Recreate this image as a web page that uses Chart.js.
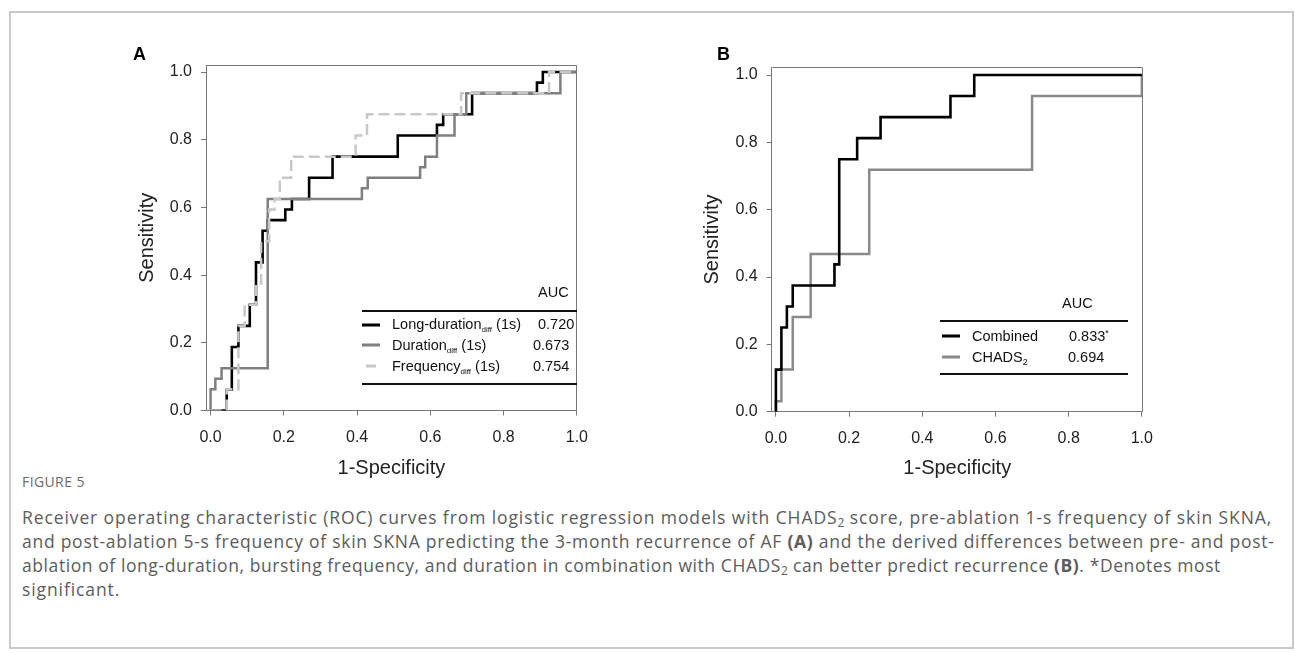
<!DOCTYPE html>
<html><head><meta charset="utf-8">
<script src="https://cdn.jsdelivr.net/npm/chart.js@4.4.0/dist/chart.umd.min.js"></script>
<style>
html,body{margin:0;padding:0;background:#fff;}
body{width:1295px;height:653px;position:relative;overflow:hidden;font-family:"Liberation Sans",Arial,sans-serif;color:#111;}
#frame{position:absolute;left:9px;top:11px;width:1285px;height:638px;border:2px solid #c9c9c9;box-sizing:border-box;}
.cv{position:absolute;}
.abs{position:absolute;white-space:nowrap;line-height:1;}
.lg{font-size:14.5px;color:#111;transform:translateY(-50%);}
.rule{position:absolute;height:2px;background:#111;}
.smp{position:absolute;height:3px;transform:translateY(-50%);}
sub.d{font-size:8px;vertical-align:-3px;line-height:0;}
sub.n{font-size:9px;vertical-align:-3px;line-height:0;}
sup.s{font-size:9px;vertical-align:5px;line-height:0;}
.letter{font-weight:bold;font-size:18px;color:#000;}
#fig{left:22px;top:475px;font-family:"Open Sans",sans-serif;font-size:14px;color:#6a6a6a;letter-spacing:0.4px;}
.cap{left:22px;font-family:"Open Sans",sans-serif;font-size:17.5px;color:#5c5c5c;letter-spacing:0.9px;}
.cap sub{font-size:12px;vertical-align:-3px;line-height:0;letter-spacing:0;}
</style>
</head><body>
<div id="frame"></div>
<canvas id="cA" class="cv" width="480" height="450" style="left:120px;top:40px"></canvas>
<canvas id="cB" class="cv" width="480" height="450" style="left:685px;top:40px"></canvas>

<div class="abs letter" style="left:133px;top:45px">A</div>
<div class="abs letter" style="left:717px;top:45px">B</div>

<!-- Legend A -->
<div class="abs lg" style="left:538px;top:292px">AUC</div>
<div class="rule" style="left:362px;top:310px;width:215px"></div>
<div class="smp" style="left:362px;top:325px;width:18px;background:#000"></div>
<div class="abs lg" style="left:392px;top:324px">Long-duration<sub class="d">diff</sub> (1s)</div>
<div class="abs lg" style="left:538px;top:324px">0.720</div>
<div class="smp" style="left:362px;top:345px;width:18px;background:#7f7f7f"></div>
<div class="abs lg" style="left:392px;top:345px">Duration<sub class="d">diff</sub> (1s)</div>
<div class="abs lg" style="left:533px;top:345px">0.673</div>
<div class="smp" style="left:366px;top:366px;width:10px;background:#c8c8c8"></div>
<div class="abs lg" style="left:392px;top:366px">Frequency<sub class="d">diff</sub> (1s)</div>
<div class="abs lg" style="left:533px;top:366px">0.754</div>
<div class="rule" style="left:362px;top:383px;width:215px"></div>

<!-- Legend B -->
<div class="abs lg" style="left:1062px;top:303px">AUC</div>
<div class="rule" style="left:940px;top:320px;width:188px"></div>
<div class="smp" style="left:942px;top:336px;width:18px;background:#000"></div>
<div class="abs lg" style="left:972px;top:336px">Combined</div>
<div class="abs lg" style="left:1069px;top:336px">0.833<sup class="s">*</sup></div>
<div class="smp" style="left:942px;top:357px;width:18px;background:#8a8a8a"></div>
<div class="abs lg" style="left:972px;top:357px">CHADS<sub class="n">2</sub></div>
<div class="abs lg" style="left:1068px;top:357px">0.694</div>
<div class="rule" style="left:940px;top:373px;width:188px"></div>

<div id="fig" class="abs">FIGURE 5</div>
<div class="abs cap" style="top:509px;letter-spacing:0.9px">Receiver operating characteristic (ROC) curves from logistic regression models with CHADS<sub>2</sub> score, pre-ablation 1-s frequency of skin SKNA,</div>
<div class="abs cap" style="top:533px;letter-spacing:0.74px">and post-ablation 5-s frequency of skin SKNA predicting the 3-month recurrence of AF <b>(A)</b> and the derived differences between pre- and post-</div>
<div class="abs cap" style="top:557px;letter-spacing:0.58px">ablation of long-duration, bursting frequency, and duration in combination with CHADS<sub>2</sub> can better predict recurrence <b>(B)</b>. *Denotes most</div>
<div class="abs cap" style="top:581px">significant.</div>

<script>
// ---- data ----
const xTickValues = [0, 0.2, 0.4, 0.6, 0.8, 1.0];
const yTickValues = [0, 0.2, 0.4, 0.6, 0.8, 1.0];

// Panel A: Long-duration_diff (1s)
const longFpr = [0, 0.044, 0.044, 0.058, 0.058, 0.076, 0.076, 0.107, 0.107, 0.124, 0.124, 0.142, 0.142, 0.156, 0.156, 0.204, 0.204, 0.222, 0.222, 0.269, 0.269, 0.333, 0.333, 0.511, 0.511, 0.618, 0.618, 0.635, 0.635, 0.714, 0.714, 0.891, 0.891, 0.907, 0.907, 1.0];
const longTpr = [0, 0, 0.0625, 0.0625, 0.1875, 0.1875, 0.25, 0.25, 0.3125, 0.3125, 0.4375, 0.4375, 0.53125, 0.53125, 0.5625, 0.5625, 0.59375, 0.59375, 0.625, 0.625, 0.6875, 0.6875, 0.75, 0.75, 0.8125, 0.8125, 0.84375, 0.84375, 0.875, 0.875, 0.9375, 0.9375, 0.96875, 0.96875, 1.0, 1.0];
// Panel A: Duration_diff (1s)
const durFpr = [0, 0, 0.013, 0.013, 0.03, 0.03, 0.156, 0.156, 0.413, 0.413, 0.429, 0.429, 0.572, 0.572, 0.586, 0.586, 0.618, 0.618, 0.666, 0.666, 0.698, 0.698, 0.955, 0.955, 1.0];
const durTpr = [0, 0.0625, 0.0625, 0.09375, 0.09375, 0.125, 0.125, 0.625, 0.625, 0.65625, 0.65625, 0.6875, 0.6875, 0.71875, 0.71875, 0.75, 0.75, 0.8125, 0.8125, 0.875, 0.875, 0.9375, 0.9375, 1.0, 1.0];
// Panel A: Frequency_diff (1s)
const freqFpr = [0, 0.044, 0.044, 0.076, 0.076, 0.093, 0.093, 0.124, 0.124, 0.138, 0.138, 0.16, 0.16, 0.175, 0.175, 0.189, 0.189, 0.22, 0.22, 0.396, 0.396, 0.427, 0.427, 0.684, 0.684, 0.924, 0.924, 1.0];
const freqTpr = [0, 0, 0.0625, 0.0625, 0.25, 0.25, 0.3125, 0.3125, 0.375, 0.375, 0.5, 0.5, 0.59375, 0.59375, 0.625, 0.625, 0.6875, 0.6875, 0.75, 0.75, 0.8125, 0.8125, 0.875, 0.875, 0.9375, 0.9375, 1.0, 1.0];

// Panel B: Combined
const combFpr = [0, 0, 0.015, 0.015, 0.03, 0.03, 0.046, 0.046, 0.16, 0.16, 0.173, 0.173, 0.222, 0.222, 0.286, 0.286, 0.477, 0.477, 0.542, 0.542, 1.0];
const combTpr = [0, 0.125, 0.125, 0.25, 0.25, 0.3125, 0.3125, 0.375, 0.375, 0.4375, 0.4375, 0.75, 0.75, 0.8125, 0.8125, 0.875, 0.875, 0.9375, 0.9375, 1.0, 1.0];
// Panel B: CHADS2
const chadsFpr = [0, 0, 0.015, 0.015, 0.046, 0.046, 0.095, 0.095, 0.255, 0.255, 0.7, 0.7, 1.0, 1.0];
const chadsTpr = [0, 0.03125, 0.03125, 0.125, 0.125, 0.28125, 0.28125, 0.46875, 0.46875, 0.71875, 0.71875, 0.9375, 0.9375, 1.0];

// ---- chart helpers ----
const FONT = '"Liberation Sans", Arial, sans-serif';
const pts = (xs, ys) => xs.map((x, i) => ({x: x, y: ys[i]}));

const framePlugin = {
  id: 'frameBox',
  afterDraw(chart) {
    const a = chart.chartArea, c = chart.ctx;
    c.save();
    c.strokeStyle = '#777'; c.lineWidth = 1;
    c.beginPath();
    c.moveTo(Math.round(a.left) + 0.5, Math.round(a.top) + 0.5);
    c.lineTo(Math.round(a.right) - 0.5, Math.round(a.top) + 0.5);
    c.lineTo(Math.round(a.right) - 0.5, Math.round(a.bottom));
    c.stroke();
    c.restore();
  }
};

function makeChart(id, datasets, cfg) {
  return new Chart(document.getElementById(id), {
    type: 'line',
    data: { datasets: datasets },
    options: {
      responsive: false, animation: false, devicePixelRatio: 1,
      layout: { padding: { left: 0, top: cfg.padTop, right: cfg.padRight, bottom: 0 } },
      plugins: { legend: { display: false }, tooltip: { enabled: false } },
      elements: { point: { radius: 0, hoverRadius: 0 }, line: { tension: 0 } },
      scales: {
        x: {
          type: 'linear', min: cfg.xMin, max: cfg.xMax,
          afterBuildTicks: a => { a.ticks = xTickValues.map(v => ({ value: v })); },
          afterFit: s => { s.height = cfg.xH; },
          grid: { drawOnChartArea: false, drawTicks: true, tickLength: 5, color: '#777', lineWidth: 1 },
          border: { display: true, color: '#777', width: 1 },
          ticks: { padding: 12, color: '#222', font: { family: FONT, size: 16 }, maxRotation: 0, autoSkip: false,
                   callback: v => Number(v).toFixed(1) },
          title: { display: true, text: '1-Specificity', color: '#222', font: { family: FONT, size: 20 }, padding: { top: 0, bottom: 10 } }
        },
        y: {
          type: 'linear', min: 0, max: cfg.yMax,
          afterBuildTicks: a => { a.ticks = yTickValues.map(v => ({ value: v })); },
          afterFit: s => { s.width = cfg.yW; },
          grid: { drawOnChartArea: false, drawTicks: true, tickLength: 5, color: '#777', lineWidth: 1 },
          border: { display: true, color: '#777', width: 1 },
          ticks: { padding: 9, color: '#222', font: { family: FONT, size: 16 }, autoSkip: false,
                   callback: v => Number(v).toFixed(1) },
          title: { display: true, text: 'Sensitivity', color: '#222', font: { family: FONT, size: 20 }, padding: { top: 15, bottom: 0 } }
        }
      }
    },
    plugins: [framePlugin]
  });
}

makeChart('cA', [
  { label: 'Frequency', data: pts(freqFpr, freqTpr), borderColor: '#c8c8c8', borderWidth: 2.5, borderDash: [11, 5], fill: false },
  { label: 'Duration', data: pts(durFpr, durTpr), borderColor: '#7f7f7f', borderWidth: 2.5, fill: false },
  { label: 'Long-duration', data: pts(longFpr, longTpr), borderColor: '#000000', borderWidth: 2.6, fill: false }
], { padTop: 25, padRight: 12.3, xMin: -0.0125, xMax: 1.0, yMax: 1.0207, xH: 79.5, yW: 86 });

makeChart('cB', [
  { label: 'Combined', data: pts(combFpr, combTpr), borderColor: '#000000', borderWidth: 2.6, fill: false },
  { label: 'CHADS2', data: pts(chadsFpr, chadsTpr), borderColor: '#8a8a8a', borderWidth: 2.5, fill: false }
], { padTop: 27.3, padRight: 13, xMin: -0.0115, xMax: 1.0027, yMax: 1.0229, xH: 78.3, yW: 86.7 });
</script>
</body></html>
